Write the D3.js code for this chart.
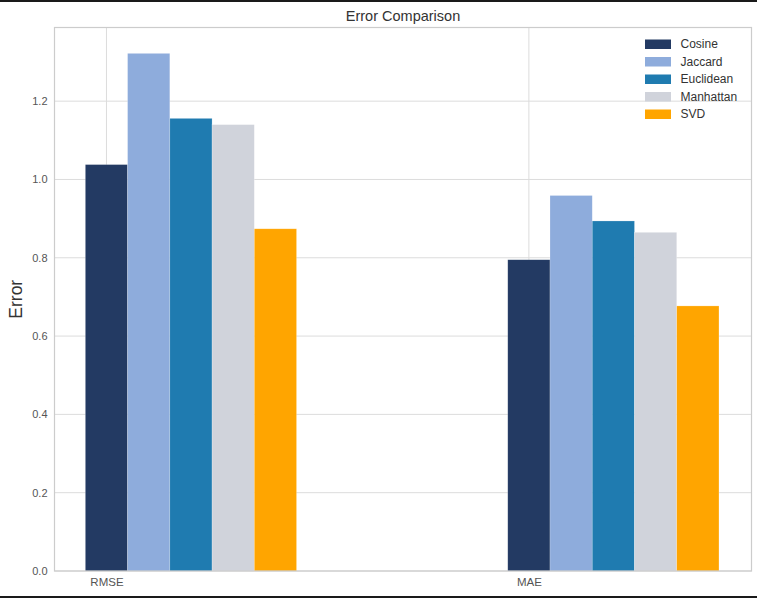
<!DOCTYPE html>
<html>
<head>
<meta charset="utf-8">
<script src="https://cdn.jsdelivr.net/npm/d3@7"></script>
<style>
  html, body { margin: 0; padding: 0; background: #fff; }
  svg { display: block; }
  text { font-family: "Liberation Sans", Arial, sans-serif; }
</style>
</head>
<body>
<svg id="chart" width="757" height="598"></svg>
<script>
const categories = ["RMSE", "MAE"];
const seriesNames = ["Cosine", "Jaccard", "Euclidean", "Manhattan", "SVD"];
const cosine = [1.038, 0.795];
const jaccard = [1.322, 0.959];
const euclidean = [1.156, 0.894];
const manhattan = [1.140, 0.865];
const svd = [0.874, 0.677];
const seriesValues = [cosine, jaccard, euclidean, manhattan, svd];
const colors = ["#233a63", "#8eacdc", "#1f7bb0", "#d0d3db", "#ffa500"];
const yTicks = [0.0, 0.2, 0.4, 0.6, 0.8, 1.0, 1.2];
const barWidth = 0.1;

(function () {
const svg = d3.select("#chart");
const W = 757, H = 598;
const pL = 54.5, pR = 751.5, pT = 27.5, pB = 571;

// black bands top/bottom
svg.append("rect").attr("x", 0).attr("y", 0).attr("width", W).attr("height", 2).attr("fill", "#1a1a1a");
svg.append("rect").attr("x", 0).attr("y", 596).attr("width", W).attr("height", 2).attr("fill", "#1a1a1a");

const maxV = d3.max(seriesValues.flat());
const x = d3.scaleLinear().domain([-0.123, 1.527]).range([pL, pR]);
const y = d3.scaleLinear().domain([0, maxV * 1.05]).range([pB, pT]);

// grid
const g = svg.append("g");
g.selectAll("line.hg").data(yTicks).enter().append("line")
  .attr("x1", pL).attr("x2", pR)
  .attr("y1", d => y(d)).attr("y2", d => y(d))
  .attr("stroke", "#dcdcdc").attr("stroke-width", 1);
g.selectAll("line.vg").data(categories).enter().append("line")
  .attr("x1", (d, i) => x(i)).attr("x2", (d, i) => x(i))
  .attr("y1", pT).attr("y2", pB)
  .attr("stroke", "#dcdcdc").attr("stroke-width", 1);

// bars
seriesValues.forEach((vals, k) => {
  svg.append("g").selectAll("rect").data(vals).enter().append("rect")
    .attr("x", (d, i) => x(i + k * barWidth - barWidth / 2))
    .attr("width", x(barWidth) - x(0))
    .attr("y", d => y(d))
    .attr("height", d => y(0) - y(d))
    .attr("fill", colors[k])
    .attr("stroke", "rgba(255,255,255,0.35)")
    .attr("stroke-width", 0.6);
});

// frame
svg.append("rect").attr("x", pL).attr("y", pT)
  .attr("width", pR - pL).attr("height", pB - pT)
  .attr("fill", "none").attr("stroke", "#cccccc").attr("stroke-width", 1.2);

// y axis ticks
const yAxis = d3.axisLeft(y).tickValues(yTicks).tickFormat(d3.format(".1f")).tickSize(0).tickPadding(7);
const ya = svg.append("g").attr("transform", `translate(${pL},0)`).call(yAxis);
ya.select(".domain").remove();
ya.selectAll("text").attr("font-size", 11).attr("fill", "#555").attr("font-family", "Liberation Sans, Arial, sans-serif");

// x axis ticks
const xAxis = d3.axisBottom(x).tickValues(categories.map((c, i) => i)).tickFormat(i => categories[i]).tickSize(0).tickPadding(7);
const xa = svg.append("g").attr("transform", `translate(0,${pB})`).call(xAxis);
xa.select(".domain").remove();
xa.selectAll("text").attr("font-size", 11.5).attr("fill", "#555").attr("font-family", "Liberation Sans, Arial, sans-serif");

// title
svg.append("text").attr("x", (pL + pR) / 2).attr("y", 21)
  .attr("text-anchor", "middle").attr("font-size", 14.5).attr("fill", "#333")
  .text("Error Comparison");

// y label
svg.append("text").attr("transform", `translate(21.5,${(pT + pB) / 2}) rotate(-90)`)
  .attr("text-anchor", "middle").attr("font-size", 17.5).attr("fill", "#333")
  .text("Error");

// legend
const lg = svg.append("g");
seriesNames.forEach((name, k) => {
  const ly = 44 + k * 17.5;
  lg.append("rect").attr("x", 645).attr("y", ly - 4.5).attr("width", 26).attr("height", 9.5).attr("fill", colors[k]);
  lg.append("text").attr("x", 680.5).attr("y", ly + 4).attr("font-size", 12).attr("fill", "#333").text(name);
});
})();
</script>
</body>
</html>
